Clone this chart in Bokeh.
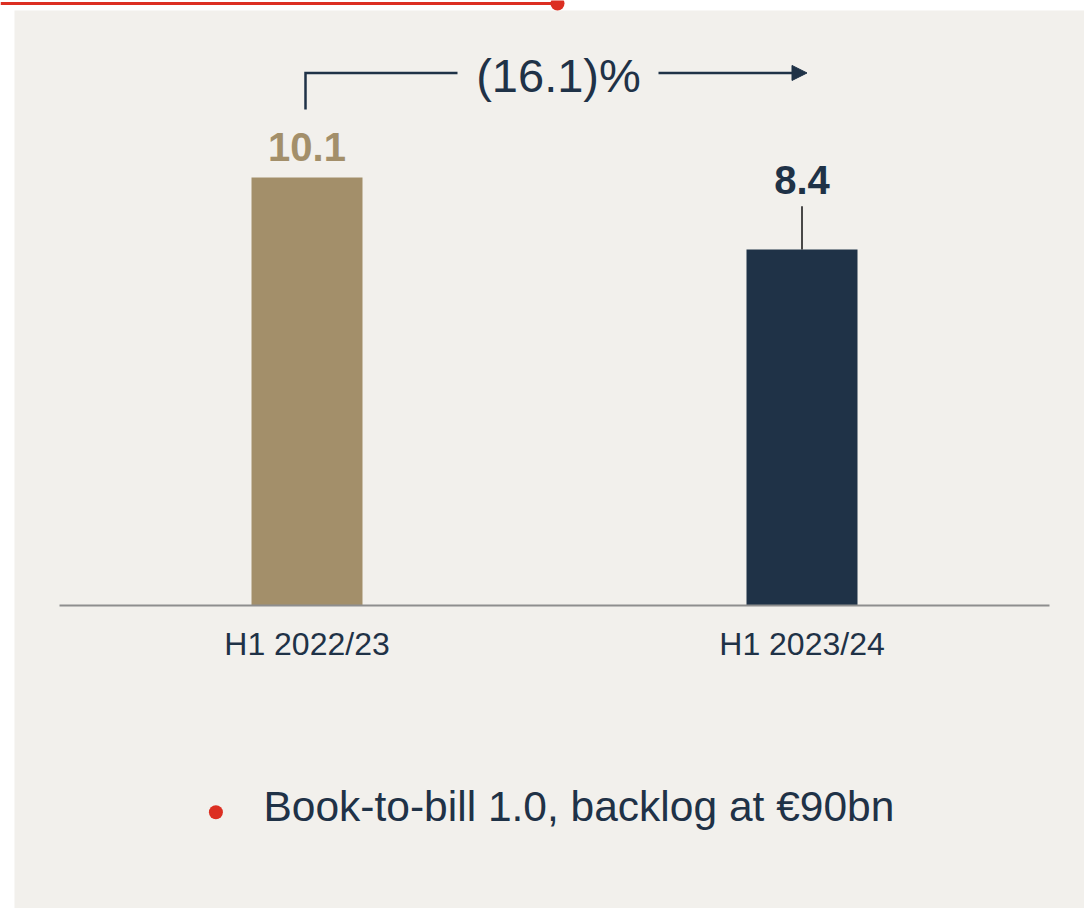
from bokeh.plotting import figure
from bokeh.models import Range1d, Arrow, NormalHead
from bokeh.core.properties import value
from bokeh.embed import file_html
from bokeh.resources import INLINE

# ---------------- data ----------------
categories = ["H1 2022/23", "H1 2023/24"]
values = [10.1, 8.4]
value_labels = ["10.1", "8.4"]
change_label = "(16.1)%"
note_text = "Book-to-bill 1.0, backlog at €90bn"

# ---------------- styles ----------------
FONT = "Liberation Sans"
BG = "#f2f0ec"
DARK = "#1f3247"
BAR_COLORS = ["#a38f6a", "#1f3247"]
LABEL_COLORS = ["#a38f6a", "#1f3247"]
RED = "#dc2f22"
BASE_COLOR = "#8e8e8e"

# ---------------- layout (pixels) ----------------
W, H = 1084, 908
PX_X = 495.0          # pixels per category step
PX_Y = 42.38          # pixels per value unit
BASE_Y = 605          # baseline position from top
FIRST_CENTER = 306.5  # first category centre from left
LABEL_GAP = [30, 70]  # value label middle above bar top


def dx(px):
    return px / PX_X


def dy(px):
    return px / PX_Y


x_start = -FIRST_CENTER / PX_X


def sx(px):
    return x_start + px / PX_X


def sy(py):
    return (BASE_Y - py) / PX_Y


x_range = Range1d(sx(0), sx(W))
y_range = Range1d(sy(H), sy(0))

p = figure(width=W, height=H, x_range=x_range, y_range=y_range,
           output_backend="svg", toolbar_location=None,
           x_axis_type=None, y_axis_type=None,
           min_border_left=0, min_border_right=0,
           min_border_top=0, min_border_bottom=0)
p.background_fill_color = "white"
p.border_fill_color = "white"
p.outline_line_color = None
p.grid.visible = False

# grey panel
p.quad(left=[sx(14)], right=[sx(W)], top=[sy(10)], bottom=[sy(H)],
       fill_color=BG, line_color=None)

xs = list(range(len(categories)))
mid = (xs[0] + xs[-1]) / 2

# bars
p.vbar(x=xs, top=values, width=dx(111), color=BAR_COLORS, line_color=None)

# baseline
p.segment(x0=[xs[0] - 0.5], y0=[0], x1=[xs[-1] + 0.5], y1=[0],
          line_color=BASE_COLOR, line_width=2)

# category labels
p.text(x=xs, y=[0] * len(xs), text=categories, y_offset=38.7,
       text_align="center", text_baseline="middle",
       text_font=value(FONT), text_font_size="32px", text_color=DARK)

# value labels
p.text(x=xs, y=values, text=value_labels, y_offset=[-g for g in LABEL_GAP],
       text_align="center", text_baseline="middle",
       text_font=value(FONT), text_font_size="40px", text_font_style="bold",
       text_color=LABEL_COLORS)

# leader line for second label
p.segment(x0=[xs[1]], y0=[values[1]], x1=[xs[1]], y1=[values[1] + dy(43.3)],
          line_color="#111111", line_width=1.5)

# change bracket
bracket_y = values[0] + dy(104.5)
bracket_x = xs[0] - dx(1.5)
text_x = mid + dx(4)
p.line(x=[bracket_x, bracket_x, bracket_x + dx(152)],
       y=[values[0] + dy(68), bracket_y, bracket_y],
       line_color=DARK, line_width=2.5, line_join="miter")
p.text(x=[text_x], y=[bracket_y], text=[change_label], y_offset=2.5,
       text_align="center", text_baseline="middle",
       text_font=value(FONT), text_font_size="47px", text_color=DARK)
p.add_layout(Arrow(start=None,
                   end=NormalHead(size=15, fill_color=DARK, line_color=DARK, line_width=1),
                   x_start=text_x + dx(100), y_start=bracket_y,
                   x_end=xs[1] + dx(5), y_end=bracket_y,
                   line_color=DARK, line_width=2.5))

# bullet note
p.scatter(x=[sx(215.4)], y=[sy(811.7)], size=14,
          fill_color=RED, line_color=None)
p.text(x=[sx(263)], y=[sy(806)], text=[note_text],
       text_align="left", text_baseline="middle",
       text_font=value(FONT), text_font_size="42.5px", text_color=DARK)

# red top rule with dot
top_y = sy(3)
p.segment(x0=[sx(0)], y0=[top_y], x1=[mid + dx(3)], y1=[top_y],
          line_color=RED, line_width=3)
p.scatter(x=[mid + dx(3)], y=[top_y], size=14, fill_color=RED, line_color=None)

open("out.html", "w").write(file_html(p, INLINE))
